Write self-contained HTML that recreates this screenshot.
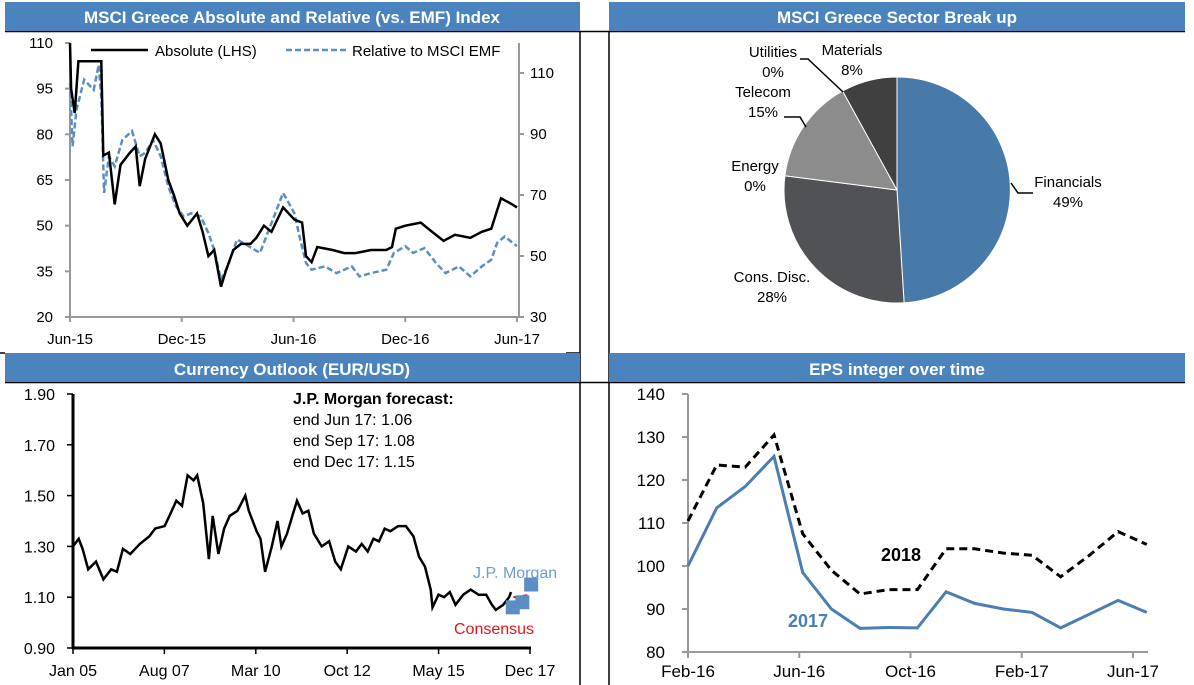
<!DOCTYPE html>
<html><head><meta charset="utf-8"><style>
html,body{margin:0;padding:0;background:#fff;}
svg{display:block;font-family:"Liberation Sans Narrow","Liberation Sans",sans-serif;}
.t{font-family:"Liberation Sans",sans-serif;}
</style></head><body>
<svg id="s" width="1194" height="685" viewBox="0 0 1194 685" xmlns="http://www.w3.org/2000/svg">
<g stroke="#000" stroke-width="1.5">
<line x1="580" y1="31" x2="580" y2="685"/><line x1="609" y1="31" x2="609" y2="685"/>
<line x1="5" y1="31.5" x2="1185" y2="31.5"/><line x1="5" y1="382.5" x2="1185" y2="382.5"/>
<line x1="0" y1="353" x2="5" y2="353"/><line x1="566" y1="353" x2="580" y2="353"/>
</g>
<rect x="5" y="2" width="575" height="29" fill="#4a83bd"/>
<text x="292" y="23" fill="#fff" font-size="17" font-weight="bold" text-anchor="middle">MSCI Greece Absolute and Relative (vs. EMF) Index</text>
<rect x="609" y="2" width="576" height="29" fill="#4a83bd"/>
<text x="897" y="23" fill="#fff" font-size="17" font-weight="bold" text-anchor="middle">MSCI Greece Sector Break up</text>
<rect x="5" y="353" width="575" height="29" fill="#4a83bd"/>
<text x="292" y="375" fill="#fff" font-size="17" font-weight="bold" text-anchor="middle">Currency Outlook (EUR/USD)</text>
<rect x="609" y="353" width="576" height="29" fill="#4a83bd"/>
<text x="897" y="375" fill="#fff" font-size="17" font-weight="bold" text-anchor="middle">EPS integer over time</text>
<g id="c1"></g>
<g id="c2"></g>
<g id="c3"></g>
<g id="c4"></g>
</svg>
<script>
// ---- Chart 1 data
const absT=[0,0.06,0.25,0.45,1.68,1.79,2.09,2.40,2.71,3.22,3.53,3.74,4.04,4.56,4.87,5.28,5.58,5.89,6.30,6.82,7.12,7.43,7.74,8.11,8.36,8.77,9.18,9.69,10.0,10.41,10.82,11.44,12.05,12.46,12.67,12.97,13.28,14.1,14.72,15.33,16.16,16.98,17.29,17.49,18.0,18.83,19.44,20.06,20.67,21.49,22.11,22.62,22.93,23.14,23.75,24.0];
const absV=[110,95,87,104,104,73,74,57,70,74,76,63,72,80,77,65,60,54,50,54,48,40,42,30,35,42,44,44,46,50,48,56,52,51,40,38,43,42,41,41,42,42,43,49,50,51,48,45,47,46,48,49,55,59,57,56];
const relT=[0,0.14,0.35,0.76,1.27,1.54,1.68,1.83,2.09,2.4,2.81,3.33,3.74,4.04,4.46,4.87,5.28,5.69,6.1,6.51,7.02,7.43,7.74,8.11,8.46,8.97,9.59,10.2,10.61,11.44,12.05,12.36,12.67,12.97,13.69,14.31,15.13,15.54,16.16,16.98,17.39,18.0,18.42,19.03,19.65,20.16,20.88,21.49,22.11,22.62,22.93,23.34,24.0];
const relV=[106.7,86,98,107.8,104.5,112.7,102,70.7,82.7,79.4,88,91,82.7,83.8,88,82.7,72.8,66.3,63,64,63,57.5,52,42.2,46.6,55.4,53.2,51,57.5,70.7,64,55.4,47.7,45.5,46.6,44.4,46.6,43.3,44.4,45.5,51,53.2,51,52.6,47.7,44.4,46.6,43.3,46.6,48.8,54.3,56.4,53.2];
const c1LeftTicks=[20,35,50,65,80,95,110];
const c1RightTicks=[30,50,70,90,110];
const c1XLabels=["Jun-15","Dec-15","Jun-16","Dec-16","Jun-17"];
const c1XTickPos=[0,6,12,18,24];
// ---- Pie data
const pieLabels=["Financials","Cons. Disc.","Energy","Telecom","Utilities","Materials"];
const pieValues=[49,28,0,15,0,8];
// ---- Currency data
const fxT=[0,.16,.27,.43,.65,.86,1.08,1.24,1.41,1.62,1.89,2.16,2.32,2.59,2.76,2.92,3.08,3.24,3.41,3.51,3.68,3.84,3.95,4.11,4.27,4.43,4.65,4.87,4.97,5.19,5.30,5.43,5.62,5.78,5.89,6.05,6.22,6.33,6.49,6.65,6.81,7.03,7.24,7.41,7.57,7.78,8.0,8.16,8.33,8.49,8.65,8.81,8.97,9.19,9.41,9.62,9.78,9.95,10.11,10.16,10.33,10.49,10.65,10.81,11.03,11.24,11.46,11.68,11.84,11.95,12.16,12.33,12.38];
const fxV=[1.30,1.33,1.29,1.21,1.24,1.17,1.21,1.20,1.29,1.27,1.31,1.34,1.37,1.38,1.43,1.48,1.46,1.58,1.56,1.58,1.47,1.25,1.42,1.27,1.37,1.42,1.44,1.50,1.44,1.36,1.33,1.20,1.30,1.40,1.30,1.35,1.43,1.48,1.43,1.44,1.35,1.30,1.32,1.24,1.21,1.30,1.28,1.31,1.28,1.33,1.32,1.37,1.36,1.38,1.38,1.34,1.26,1.22,1.13,1.06,1.11,1.10,1.12,1.07,1.11,1.13,1.11,1.11,1.07,1.05,1.07,1.10,1.12];
const jpmT=[12.43,12.70,12.95];
const jpmV=[1.06,1.08,1.15];
const consT=[12.45,12.95];
const consV=[1.10,1.11];
const fxTicks=[0.90,1.10,1.30,1.50,1.70,1.90];
const fxXLabels=["Jan 05","Aug 07","Mar 10","Oct 12","May 15","Dec 17"];
const fxXPos=[0,2.583,5.167,7.75,10.333,12.917];
// ---- EPS data
const eps2017=[100,113.5,118.5,125.5,98.5,90,85.5,85.7,85.6,94,91.3,90,89.2,85.6,88.8,92,89.2];
const eps2018=[110.5,123.5,123,130.5,107.5,99,93.5,94.5,94.5,104,104,103,102.5,97.5,102.5,108,105];
const epsTicks=[80,90,100,110,120,130,140];
const epsXLabels=["Feb-16","Jun-16","Oct-16","Feb-17","Jun-17"];
const epsXPos=[0,3.88,7.76,11.64,15.52];

const NS="http://www.w3.org/2000/svg";
function mk(parent,tag,attrs,txt){const e=document.createElementNS(NS,tag);for(const k in attrs)e.setAttribute(k,attrs[k]);if(txt!=null)e.textContent=txt;parent.appendChild(e);return e;}
function pts(xs,ys,fx,fy){return xs.map((x,i)=>fx(x).toFixed(1)+","+fy(ys[i]).toFixed(1)).join(" ");}

// Chart 1
(function(){
const g=document.getElementById('c1');
const x=t=>70+(t/24)*(517-70);
const yL=v=>317-(v-20)/90*274;
const yR=v=>317-(v-30)/20*61;
let e;
e=mk(g,'line',{x1:70,y1:43,x2:70,y2:318,stroke:'#999','stroke-width':2});

e=mk(g,'line',{x1:519,y1:43,x2:519,y2:318,stroke:'#999','stroke-width':2});

e=mk(g,'line',{x1:69,y1:317,x2:520,y2:317,stroke:'#999','stroke-width':2});

c1LeftTicks.forEach(v=>{mk(g,'line',{x1:65,y1:yL(v),x2:70,y2:yL(v),stroke:'#999','stroke-width':2});
e=mk(g,'text',{x:53,y:yL(v)+5,'font-size':15,'text-anchor':'end',fill:'#000'},v);
});
c1RightTicks.forEach(v=>{mk(g,'line',{x1:519,y1:yR(v),x2:524,y2:yR(v),stroke:'#999','stroke-width':2});
e=mk(g,'text',{x:530,y:yR(v)+5,'font-size':15,fill:'#000'},v);
});
c1XLabels.forEach((l,i)=>{const p=x(c1XTickPos[i]);mk(g,'line',{x1:p,y1:317,x2:p,y2:322,stroke:'#999','stroke-width':2});
e=mk(g,'text',{x:p,y:344,'font-size':15,'text-anchor':'middle'},l);
});
e=mk(g,'polyline',{points:pts(relT,relV,x,yR),fill:'none',stroke:'#5b8ec4','stroke-width':2.5,'stroke-dasharray':'6,3'});

e=mk(g,'polyline',{points:pts(absT,absV,x,yL),fill:'none',stroke:'#000','stroke-width':2.5});

e=mk(g,'line',{x1:91,y1:50,x2:148,y2:50,stroke:'#000','stroke-width':2.5});

e=mk(g,'text',{x:155,y:56,'font-size':15},'Absolute (LHS)');

e=mk(g,'line',{x1:286,y1:50,x2:346,y2:50,stroke:'#5b8ec4','stroke-width':2.5,'stroke-dasharray':'6,3'});

e=mk(g,'text',{x:352,y:56,'font-size':15},'Relative to MSCI EMF');

})();

// Pie
(function(){
const g=document.getElementById('c2');
const cx=897,cy=190,r=113;
const colors=['#4779a9','#505256','#606060','#8c8c8c','#777','#404040'];
const tot=pieValues.reduce((a,b)=>a+b,0);let a0=0,e;
pieValues.forEach((v,i)=>{if(v<=0)return;const a1=a0+v/tot*2*Math.PI;
const p=(a)=>[cx+r*Math.sin(a),cy-r*Math.cos(a)];const s=p(a0),f=p(a1);
e=mk(g,'path',{d:`M${cx},${cy} L${s[0].toFixed(1)},${s[1].toFixed(1)} A${r},${r} 0 ${a1-a0>Math.PI?1:0} 1 ${f[0].toFixed(1)},${f[1].toFixed(1)} Z`,fill:colors[i],stroke:'#fff','stroke-width':1});

a0=a1;});
const lab=[[1068,187],[772,282],[755,171],[763,97],[773,57],[852,55]];
pieLabels.forEach((l,i)=>{e=mk(g,'text',{x:lab[i][0],y:lab[i][1],'font-size':15,'text-anchor':'middle'});
mk(e,'tspan',{x:lab[i][0]},l);mk(e,'tspan',{x:lab[i][0],dy:20},pieValues[i]+'%');
});
[[1011,183,1018,193,1033,193],[784,117,800,117,806,127],[800,59,808,59,843,92]].forEach(q=>{
e=mk(g,'polyline',{points:`${q[0]},${q[1]} ${q[2]},${q[3]} ${q[4]},${q[5]}`,fill:'none',stroke:'#000','stroke-width':1.5});
});
})();

// Currency
(function(){
const g=document.getElementById('c3');
const x=t=>73+t/12.917*(530-73);
const y=v=>648-(v-0.9)/1.0*254;let e;
e=mk(g,'line',{x1:73,y1:394,x2:73,y2:649,stroke:'#000','stroke-width':3});

e=mk(g,'line',{x1:72,y1:648,x2:531,y2:648,stroke:'#000','stroke-width':3});

fxTicks.forEach(v=>{mk(g,'line',{x1:67,y1:y(v),x2:73,y2:y(v),stroke:'#000','stroke-width':1.5});
e=mk(g,'text',{x:55,y:y(v)+6,'font-size':16,'text-anchor':'end'},v.toFixed(2));
});
fxXLabels.forEach((l,i)=>{const p=x(fxXPos[i]);mk(g,'line',{x1:p,y1:648,x2:p,y2:654,stroke:'#000','stroke-width':1.5});
e=mk(g,'text',{x:p,y:676,'font-size':16,'text-anchor':'middle'},l);
});
e=mk(g,'polyline',{points:pts(fxT,fxV,x,y),fill:'none',stroke:'#000','stroke-width':2.5});

e=mk(g,'polyline',{points:pts(consT,consV,x,y),fill:'none',stroke:'#e00','stroke-width':2,'stroke-dasharray':'5,4'});

jpmT.forEach((t,i)=>{e=mk(g,'rect',{x:x(t)-7,y:y(jpmV[i])-7,width:14,height:14,fill:'#5b8ec4'});
});
e=mk(g,'text',{x:473,y:578,'font-size':16,fill:'#6f9ccb'},'J.P. Morgan');

e=mk(g,'text',{x:454,y:634,'font-size':16,fill:'#e8141b'},'Consensus');

const lines=['end Jun 17: 1.06','end Sep 17: 1.08','end Dec 17: 1.15'];
e=mk(g,'text',{x:293,y:404,'font-size':16,'font-weight':'bold'},'J.P. Morgan forecast:');

lines.forEach((l,i)=>{e=mk(g,'text',{x:293,y:425+i*21,'font-size':16},l);
});
})();

// EPS
(function(){
const g=document.getElementById('c4');
const x=i=>688+i/15.52*(1133-688);
const y=v=>652-(v-80)/60*258;let e;
e=mk(g,'line',{x1:688,y1:394,x2:688,y2:653,stroke:'#999','stroke-width':2});

e=mk(g,'line',{x1:687,y1:652,x2:1148,y2:652,stroke:'#999','stroke-width':2});

epsTicks.forEach(v=>{mk(g,'line',{x1:682,y1:y(v),x2:688,y2:y(v),stroke:'#999','stroke-width':2});
e=mk(g,'text',{x:665,y:y(v)+6,'font-size':17,'text-anchor':'end',class:'t'},v);
});
epsXLabels.forEach((l,i)=>{const p=x(epsXPos[i]);mk(g,'line',{x1:p,y1:652,x2:p,y2:658,stroke:'#999','stroke-width':2});
e=mk(g,'text',{x:p,y:677,'font-size':17,'text-anchor':'middle',class:'t'},l);
});
const idx=eps2017.map((_,i)=>i);
e=mk(g,'polyline',{points:pts(idx,eps2018,x,y),fill:'none',stroke:'#000','stroke-width':3,'stroke-dasharray':'8,5'});

e=mk(g,'polyline',{points:pts(idx,eps2017,x,y),fill:'none',stroke:'#4a7eb4','stroke-width':3});

e=mk(g,'text',{x:901,y:561,'font-size':18,'font-weight':'bold','text-anchor':'middle',class:'t'},'2018');

e=mk(g,'text',{x:808,y:627,'font-size':18,'font-weight':'bold','text-anchor':'middle',fill:'#4a7eb4',class:'t'},'2017');

})();
</script>
</body></html>
